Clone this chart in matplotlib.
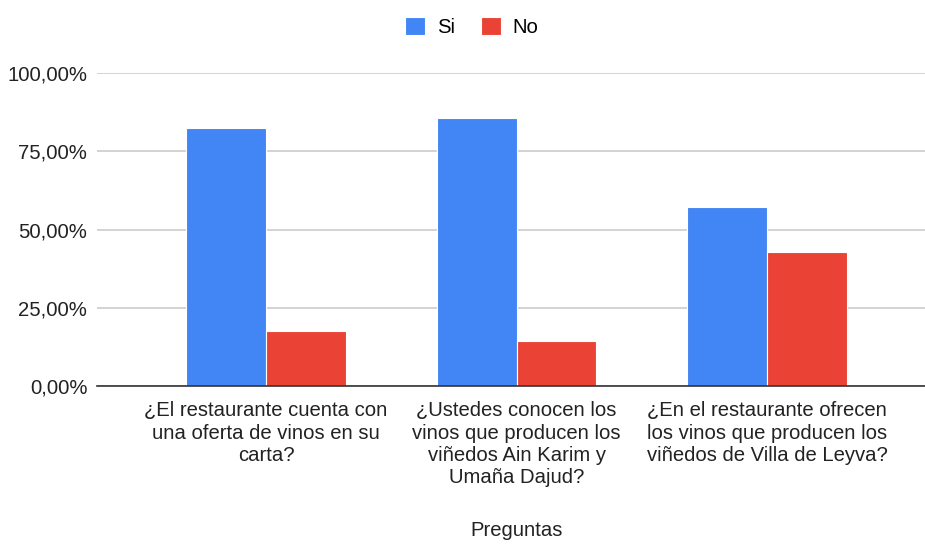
import numpy as np
import matplotlib.pyplot as plt

plt.rcParams['font.family'] = ['Liberation Sans', 'DejaVu Sans']

# datos de la encuesta
preguntas = [
    "¿El restaurante cuenta con\nuna oferta de vinos en su\ncarta?",
    "¿Ustedes conocen los\nvinos que producen los\nviñedos Ain Karim y\nUmaña Dajud?",
    "¿En el restaurante ofrecen\nlos vinos que producen los\nviñedos de Villa de Leyva?",
]
si = [82.35, 85.71, 57.14]
no = [17.65, 14.29, 42.86]
yticks = [0, 25, 50, 75, 100]
ylabels = ["0,00%", "25,00%", "50,00%", "75,00%", "100,00%"]

fig = plt.figure(figsize=(9.25, 5.45), dpi=100)
ax = fig.add_axes([97/925, 159/545, 828/925, 313/545])

x = np.arange(len(preguntas))
w = 0.318
ax.bar(x - w/2, si, w, color="#4285F4", edgecolor="white", linewidth=0.8, label="Si", zorder=3)
ax.bar(x + w/2, no, w, color="#EA4335", edgecolor="white", linewidth=0.8, label="No", zorder=3)

ax.set_xlim(-0.675, 2.63)
ax.set_ylim(0, 100)
ax.set_yticks(yticks)
ax.set_yticklabels(ylabels)
ax.set_xticks(x)
ax.set_xticklabels(preguntas, linespacing=1.22)
ax.tick_params(axis="both", length=0, labelsize=14.6, colors="#222222")
ax.tick_params(axis="y", pad=7)
ax.tick_params(axis="x", pad=11)

ax.grid(axis="y", color="#CCCCCC", linewidth=1.2, zorder=0)
for s in ["top", "right", "left"]:
    ax.spines[s].set_visible(False)
ax.spines["bottom"].set_color("#333333")
ax.spines["bottom"].set_linewidth(1.2)
ax.spines["bottom"].set_zorder(4)

ax.set_xlabel("Preguntas", fontsize=14.6, color="#222222", va="center")
ax.xaxis.set_label_coords((517 - 97) / 828, -(530 - 386) / 313)

ax.legend(loc="center", bbox_to_anchor=(472/925, 1 - 27/545), bbox_transform=fig.transFigure,
          ncol=2, frameon=False, fontsize=14.6, handlelength=0.95, handleheight=0.95,
          handletextpad=0.6, columnspacing=1.3)

plt.savefig("out.png", dpi=100)
